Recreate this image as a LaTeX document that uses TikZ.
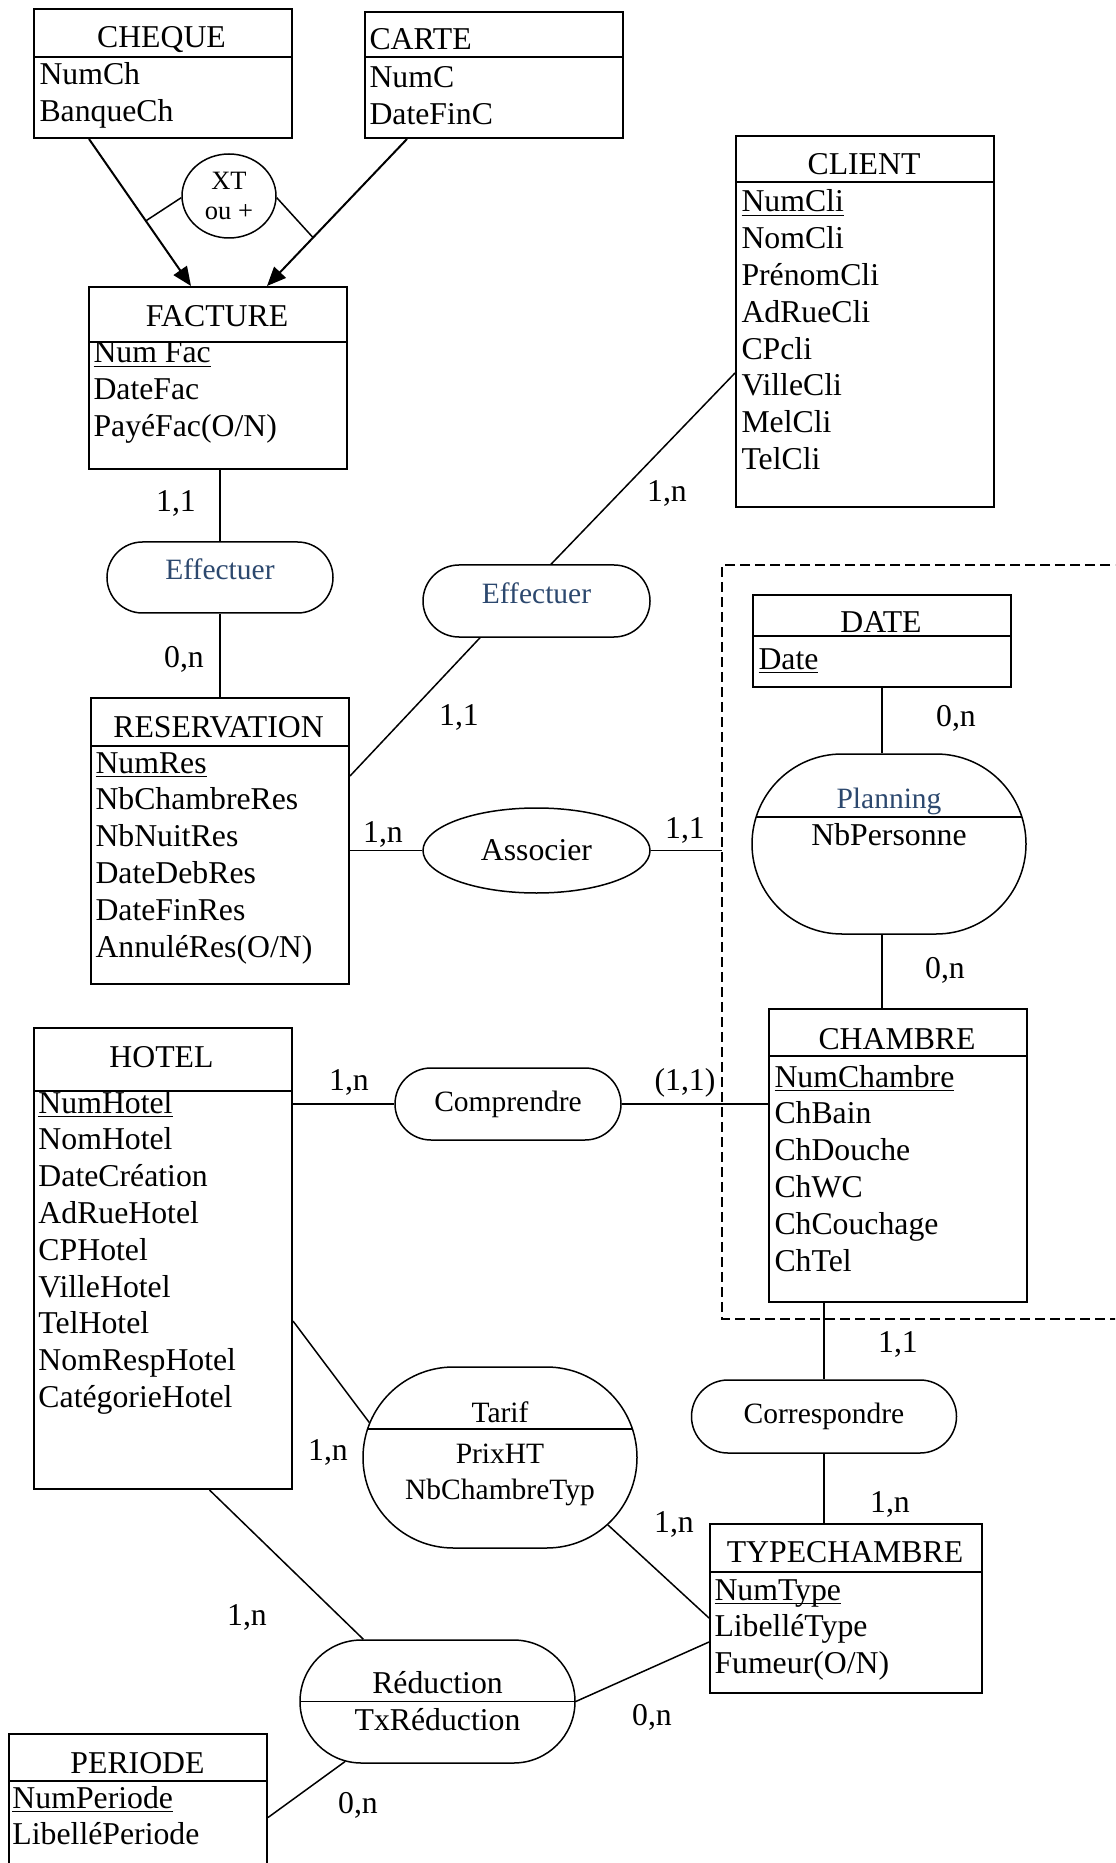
\documentclass[tikz,border=0pt]{standalone}
\usepackage{fontspec}
\setmainfont{Liberation Serif}
\usetikzlibrary{arrows.meta, shapes.misc, shapes.geometric}
\definecolor{bleuassoc}{RGB}{44,72,110}
\newcommand{\grand}{\fontsize{12.7}{14.7}\selectfont}
\newcommand{\petit}{\fontsize{11.8}{14}\selectfont}
\newcommand{\cle}[1]{\underline{\smash{#1}}}
\newcommand{\attributs}[4]{%
  \foreach \champ [count=\i] in {#4}
    \node[attr] (#1-\i) at ({#2},{#3+36.8*(\i-1)}) {\champ};%
}

\tikzset{
  entite/.style={draw, line width=0.8pt, anchor=north west, inner sep=0pt, minimum width=103.2pt},
  titre/.style={anchor=base, inner sep=0pt, font=\grand},
  attr/.style={anchor=base west, inner sep=0pt, font=\grand},
  assoc/.style={draw, rounded rectangle, line width=0.6pt, inner sep=0pt, font=\petit},
  card/.style={anchor=base, inner sep=0pt, font=\grand},
  lien/.style={line width=0.6pt},
  fleche/.style={line width=0.8pt, -{Triangle[length=7.6pt, width=6.4pt]}},
  cadre/.style={line width=0.8pt, dash pattern=on 4pt off 2pt},
  separe/.style={path picture={\draw[line width=0.6pt] ([yshift=#1]path picture bounding box.west) -- ([yshift=#1]path picture bounding box.east);}},
}

\begin{document}
\begin{tikzpicture}[x=0.4pt, y=-0.4pt]
    \useasboundingbox (0,0) rectangle (1115,1863);
    \clip (0,0) rectangle (1115,1863);

    % entites
    \node[entite, minimum height=51.6pt] (cheque) at (33,8) {};
    \node[entite, minimum height=50.4pt] (carte) at (364,11) {};
    \node[entite, minimum height=72.8pt] (facture) at (88,286) {};
    \node[entite, minimum height=148.4pt] (client) at (735,135) {};
    \node[entite, minimum height=114.4pt] (reservation) at (90,697) {};
    \node[entite, minimum height=36.8pt] (date) at (752,594) {};
    \node[entite, minimum height=117.2pt] (chambre) at (768,1008) {};
    \node[entite, minimum height=184.4pt] (hotel) at (33,1027) {};
    \node[entite, minimum width=108.8pt, minimum height=67.6pt] (typech) at (709,1523) {};
    \node[entite, minimum height=66.8pt] (periode) at (8,1733) {};

    \foreach \e/\h in {cheque/19.6pt, carte/18.4pt, facture/22.4pt, client/18.8pt,
        reservation/19.6pt, date/16.8pt, chambre/19.2pt, hotel/25.6pt, typech/19.6pt, periode/19.2pt}
      \draw[line width=0.8pt] ([yshift=-\h]\e.north west) -- ([yshift=-\h]\e.north east);

    \node[titre] (cheque-t) at (161.5,48) {CHEQUE};
    \node[titre, anchor=base west] (carte-t) at (369,50) {CARTE};
    \node[titre] (facture-t) at (217,327) {FACTURE};
    \node[titre] (client-t) at (864,175) {CLIENT};
    \node[titre] (reservation-t) at (218.5,737) {RESERVATION};
    \node[titre] (date-t) at (881,633) {DATE};
    \node[titre] (chambre-t) at (897,1049) {CHAMBRE};
    \node[titre] (hotel-t) at (161.5,1067) {HOTEL};
    \node[titre] (typech-t) at (845,1562) {TYPECHAMBRE};
    \node[titre] (periode-t) at (137.5,1773) {PERIODE};

    \attributs{cheque}{39}{85}{NumCh, BanqueCh}
    \attributs{carte}{369}{88}{NumC, DateFinC}
    \attributs{facture}{93}{363}{\cle{Num Fac}, DateFac, PayéFac(O/N)}
    \attributs{client}{741}{212}{\cle{NumCli}, NomCli, PrénomCli, AdRueCli, CPcli, VilleCli, MelCli, TelCli}
    \attributs{reservation}{95}{773}{\cle{NumRes}, NbChambreRes, NbNuitRes, DateDebRes, DateFinRes, AnnuléRes(O/N)}
    \attributs{date}{758}{669}{\cle{Date}}
    \attributs{chambre}{774}{1087}{\cle{NumChambre}, ChBain, ChDouche, ChWC, ChCouchage, ChTel}
    \attributs{hotel}{38}{1113}{\cle{NumHotel}, NomHotel, DateCréation, AdRueHotel, CPHotel, VilleHotel, TelHotel, NomRespHotel, CatégorieHotel}
    \attributs{typech}{714}{1600}{\cle{NumType}, LibelléType, Fumeur(O/N)}
    \attributs{periode}{12}{1808}{\cle{NumPeriode}, LibelléPeriode}

    % associations
    \node[draw, ellipse, line width=0.6pt, minimum width=37.6pt, minimum height=33.6pt, inner sep=0pt,
      align=center, font=\fontsize{10.6}{12}\selectfont] (xt) at (229,196) {XT\\ou +};
    \node[assoc, minimum width=90.4pt, minimum height=28.4pt, text=bleuassoc, text height=8pt, text depth=6pt] (effac) at (220,577.5) {Effectuer};
    \node[assoc, minimum width=90.8pt, minimum height=28.8pt, text=bleuassoc, text height=8pt, text depth=6pt] (effcli) at (536.5,601) {Effectuer};
    \node[draw, ellipse, line width=0.6pt, minimum width=90.8pt, minimum height=34pt, inner sep=0pt,
      font=\grand] (associer) at (536.5,850.5) {Associer};
    \node[assoc, minimum width=90.4pt, minimum height=28.8pt] (comprendre) at (508,1104) {Comprendre};
    \node[assoc, minimum width=106pt, minimum height=29.2pt] (corresp) at (824,1416.5) {Correspondre};
    \node[assoc, minimum width=109.6pt, minimum height=72pt, separe=10.8pt] (planning) at (889,844) {};
    \node[assoc, minimum width=109.6pt, minimum height=72.4pt, separe=11.4pt] (tarif) at (500,1457.5) {};
    \node[assoc, minimum width=110pt, minimum height=49.2pt, separe=0pt] (reduction) at (437.5,1701.5) {};

    \node[titre, font=\petit, text=bleuassoc] (planning-t) at (889,808) {Planning};
    \node[titre] (planning-1) at (889,845) {NbPersonne};
    \node[titre, font=\petit] (tarif-t) at (500,1422) {Tarif};
    \node[titre, font=\petit] (tarif-1) at (500,1463) {PrixHT};
    \node[titre, font=\petit] (tarif-2) at (500,1499) {NbChambreTyp};
    \node[titre] (reduction-t) at (437.5,1693) {Réduction};
    \node[titre] (reduction-1) at (437.5,1730) {TxRéduction};

    % cadre en pointilles
    \coordinate (cadre-nw) at (722,565);
    \coordinate (cadre-se) at (1140,1319);
    \draw[cadre] (cadre-nw -| cadre-se) -- (cadre-nw) -- (cadre-nw |- cadre-se) -- (cadre-se);

    % liens
    \draw[fleche] ([xshift=22.4pt]cheque.south west) -- coordinate[pos=0.557] (cheque-xt) ([xshift=41.2pt]facture.north west);
    \draw[fleche] ([xshift=17.2pt]carte.south west) -- coordinate[pos=0.671] (carte-xt) ([xshift=71.6pt]facture.north west);
    \draw[lien] (xt.182) -- (cheque-xt);
    \draw[lien] (xt.-2) -- (carte-xt);
    \draw[lien] (effac.north |- facture.south) -- (effac.north);
    \draw[lien] (effac.south) -- (effac.south |- reservation.north);
    \draw[lien] ([yshift=-20.6pt]client.west) -- ([xshift=5.8pt]effcli.north);
    \draw[lien] ([xshift=-22.6pt]effcli.south) -- ([yshift=26pt]reservation.east);
    \draw[lien] (associer.west -| reservation.east) -- (associer.west);
    \draw[lien] (associer.east) -- (associer.east -| cadre-nw);
    \draw[lien] (date.south) -- (date.south |- planning.north);
    \draw[lien] (planning.south -| date.south) -- (chambre.north -| date.south);
    \draw[lien] (comprendre.west -| hotel.east) -- (comprendre.west);
    \draw[lien] (comprendre.east) -- (comprendre.east -| chambre.west);
    \draw[lien] (corresp.north |- chambre.south) -- (corresp.north);
    \draw[lien] (corresp.south) -- (corresp.south |- typech.north);
    \draw[lien] ([yshift=-25pt]hotel.east) -- (tarif.165);
    \draw[lien] (tarif.-32) -- ([yshift=-3.8pt]typech.west);
    \draw[lien] ([xshift=18.6pt]hotel.south) -- (reduction.140);
    \draw[lien] (reduction.east) -- ([yshift=-13.4pt]typech.west);
    \draw[lien] (reduction.213) -- (periode.east);

    % cardinalites
    \foreach \x/\y/\c [count=\i] in {176/512/{1,1}, 184/668/{0,n}, 667/502/{1,n}, 459/725/{1,1},
        383/842/{1,n}, 685/838/{1,1}, 956/726/{0,n}, 945/978/{0,n}, 349/1090/{1,n}, 685/1090/{(1,1)},
        898/1352/{1,1}, 890/1512/{1,n}, 328/1460/{1,n}, 674/1532/{1,n}, 247/1625/{1,n},
        652/1725/{0,n}, 358/1813/{0,n}}
      \node[card] (card-\i) at (\x,\y) {\c};
\end{tikzpicture}
\end{document}
